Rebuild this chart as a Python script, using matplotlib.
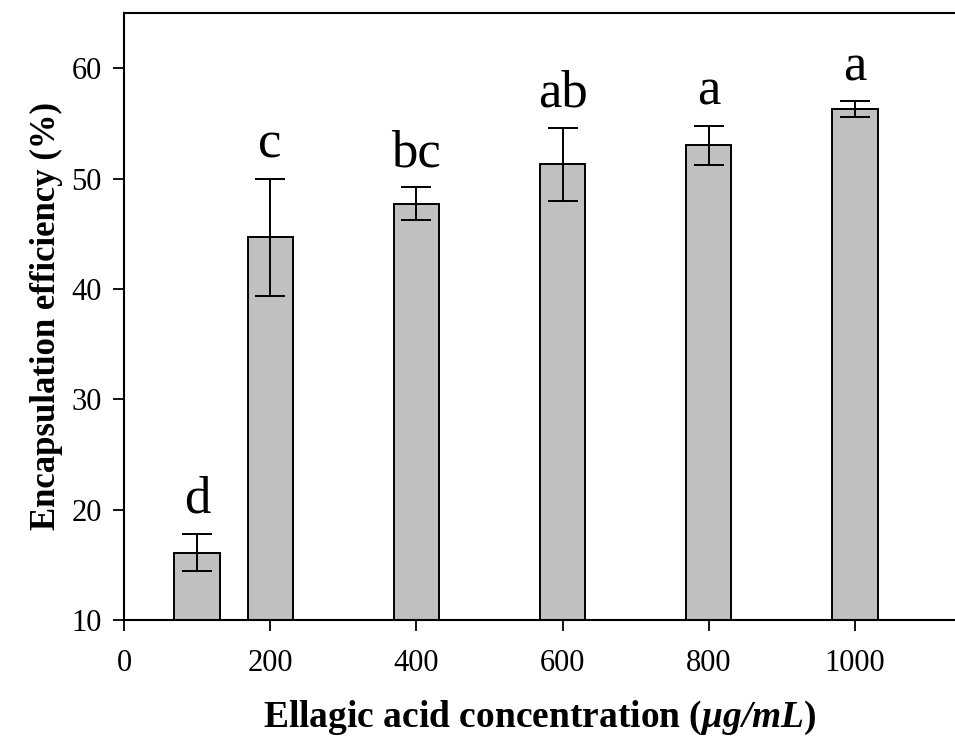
import numpy as np
import matplotlib.pyplot as plt

# ========== Data ==========
concentrations = [100, 200, 400, 600, 800, 1000]
efficiency = [16.1, 44.7, 47.7, 51.3, 53.0, 56.3]
efficiency_err = [1.7, 5.3, 1.5, 3.3, 1.8, 0.7]
group_letters = ['d', 'c', 'bc', 'ab', 'a', 'a']

plt.rcParams['font.family'] = ['Liberation Serif', 'DejaVu Serif']
plt.rcParams['mathtext.fontset'] = 'custom'
plt.rcParams['mathtext.rm'] = 'Liberation Serif'
plt.rcParams['mathtext.it'] = 'Liberation Serif:italic'
plt.rcParams['mathtext.bf'] = 'Liberation Serif:bold'
plt.rcParams['mathtext.bfit'] = 'Liberation Serif:italic:bold'

fig = plt.figure(figsize=(9.55, 7.51), dpi=100)
ax = fig.add_axes([124 / 955, 131 / 751, 831 / 955, 607 / 751])

ax.bar(concentrations, np.array(efficiency) - 10, bottom=10, width=62,
       color='#c0c0c0', edgecolor='black', linewidth=1.4, zorder=2)
ax.errorbar(concentrations, efficiency, yerr=efficiency_err, fmt='none',
            ecolor='black', elinewidth=1.4, capsize=11, capthick=1.4, zorder=3)

# significance letters above each error bar
for x, m, e, lab in zip(concentrations, efficiency, efficiency_err, group_letters):
    ax.text(x, m + e + 1.9, lab, ha='center', va='baseline', fontsize=38)

ax.set_xlim(0, 1137)
ax.set_ylim(10, 65)
ax.set_xticks([0, 200, 400, 600, 800, 1000])
ax.set_yticks([10, 20, 30, 40, 50, 60])
ax.tick_params(axis='both', direction='out', length=8, width=1.3,
               labelsize=22, top=False, right=False)
ax.tick_params(axis='x', pad=13)
ax.tick_params(axis='y', pad=8)
for side in ['left', 'bottom', 'top']:
    ax.spines[side].set_linewidth(1.5)
ax.spines['right'].set_visible(False)

ax.set_ylabel('Encapsulation efficiency (%)', fontsize=25, fontweight='bold', labelpad=6)
ax.set_xlabel(r'Ellagic acid concentration ($\mathbfit{\mu g/mL}$)',
              fontsize=27, fontweight='bold', labelpad=15)

fig.savefig('out.png', dpi=100)
